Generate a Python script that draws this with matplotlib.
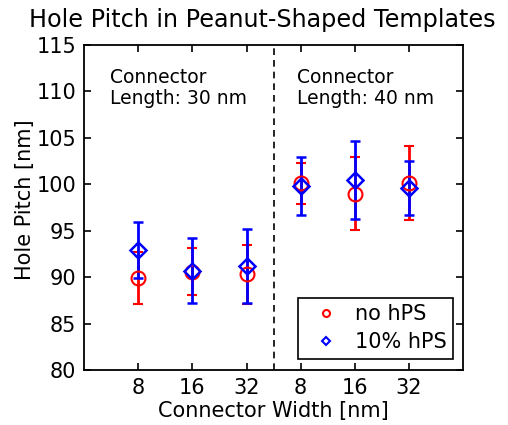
import matplotlib
matplotlib.use("Agg")
import matplotlib.pyplot as plt
from matplotlib.lines import Line2D

categories = ["8", "16", "32", "8", "16", "32"]
no_hps = [89.9, 90.6, 90.3, 100.1, 99.0, 100.1]
no_hps_err = [2.8, 2.5, 3.2, 2.2, 3.9, 4.0]
hps10 = [92.9, 90.7, 91.2, 99.8, 100.5, 99.6]
hps10_err = [3.0, 3.5, 4.0, 3.1, 4.2, 2.9]
yticks = [80, 85, 90, 95, 100, 105, 110, 115]

plt.rcParams['font.family'] = ['DejaVu Sans']

fig = plt.figure(figsize=(5.08, 4.25), dpi=100)
ax = fig.add_axes([0.166, 0.1294, 0.745, 0.765])

x = list(range(1, len(categories) + 1))
ax.errorbar(x, no_hps, yerr=no_hps_err, fmt='o', color='#ff0000', mfc='none',
            mec='#ff0000', ms=10, mew=1.5, elinewidth=2, capsize=3.5, capthick=2)
ax.errorbar(x, hps10, yerr=hps10_err, fmt='D', color='#0000ff', mfc='none',
            mec='#0000ff', ms=8, mew=1.8, elinewidth=2, capsize=3.5, capthick=2)

ax.axvline(3.5, color='black', linestyle=(0, (4, 3)), linewidth=1.2)

ax.set_xlim(0, 7)
ax.set_ylim(80, 115)
ax.set_xticks(x)
ax.set_xticklabels(categories)
ax.set_yticks(yticks)
ax.tick_params(direction='in', top=True, right=True, length=5, width=1.2,
               labelsize=15, pad=6)
for s in ax.spines.values():
    s.set_linewidth(1.3)

ax.set_xlabel('Connector Width [nm]', fontsize=15, labelpad=2)
ax.set_ylabel('Hole Pitch [nm]', fontsize=15, va='center')
ax.yaxis.set_label_coords(-0.156, 0.523)
fig.text(262 / 508, 1 - 20 / 425, 'Hole Pitch in Peanut-Shaped Templates',
         fontsize=17.2, ha='center', va='center')

ax.text(0.47, 112.5, 'Connector\nLength: 30 nm', fontsize=13.5, va='top',
        ha='left', linespacing=1.15)
ax.text(3.94, 112.5, 'Connector\nLength: 40 nm', fontsize=13.5, va='top',
        ha='left', linespacing=1.15)

handles = [
    Line2D([], [], linestyle='none', marker='o', mfc='none', mec='#ff0000',
           ms=5, mew=1.5, label='no hPS'),
    Line2D([], [], linestyle='none', marker='D', mfc='none', mec='#0000ff',
           ms=4.5, mew=1.5, label='10% hPS'),
]
leg = ax.legend(handles=handles, loc='lower right', fontsize=15, frameon=True,
                fancybox=False, edgecolor='black', framealpha=1,
                handlelength=2.1, handletextpad=0.35, borderpad=0.3,
                labelspacing=0.4, borderaxespad=0,
                bbox_to_anchor=(0.975, 0.035))
leg.get_frame().set_linewidth(1.2)

fig.savefig('out.png', dpi=100)
